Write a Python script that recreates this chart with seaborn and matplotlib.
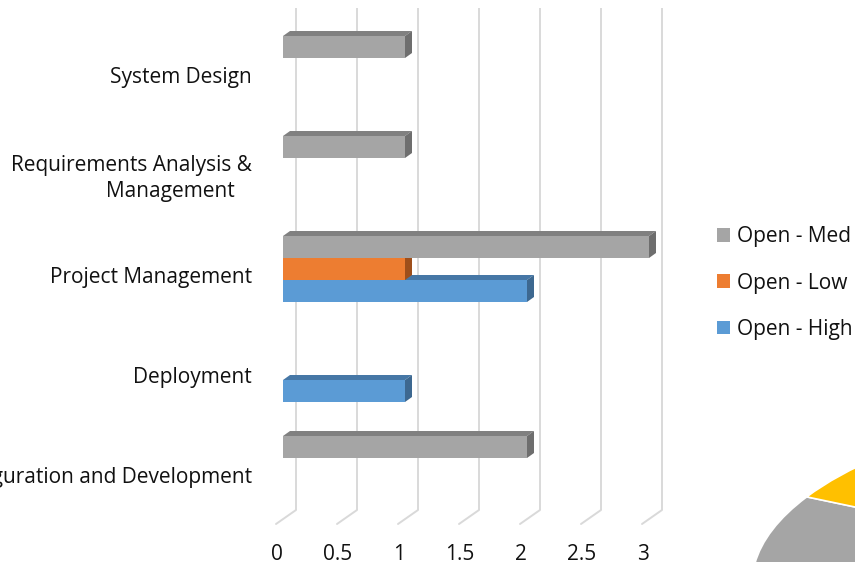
import matplotlib
matplotlib.use('Agg')
import matplotlib.pyplot as plt
import matplotlib.transforms as mtransforms
from matplotlib.patches import Polygon, Patch, ConnectionPatch
from matplotlib.colors import to_hex
import seaborn as sns
import pandas as pd

# 데이터
categories = ['System Design', 'Requirements Analysis & Management',
              'Project Management', 'Deployment', 'Configuration and Development']
series = ['Open - Med', 'Open - Low', 'Open - High']
open_med = [1, 1, 3, 0, 2]
open_low = [0, 0, 1, 0, 0]
open_high = [0, 0, 2, 1, 0]
x_ticks = [0, 0.5, 1, 1.5, 2, 2.5, 3]
x_tick_labels = ['0', '0.5', '1', '1.5', '2', '2.5', '3']

# 잘린 파이 차트 (오른쪽 아래)
pie_values = [6, 4, 14, 5]
pie_colors = ['#5B9BD5', '#ED7D31', '#A5A5A5', '#FFC000']

front = {'Open - Med': '#A5A5A5', 'Open - Low': '#ED7D31', 'Open - High': '#5B9BD5'}
shade = {'#a5a5a5': ('#808080', '#6E6E6E'),
         '#ed7d31': ('#B35D22', '#9E4F1B'),
         '#5b9bd5': ('#4677A6', '#3D6890')}

rows = []
for name, vals in zip(series, [open_med, open_low, open_high]):
    for c, v in zip(categories, vals):
        if v > 0:
            rows.append({'category': c, 'series': name, 'value': v})
df = pd.DataFrame(rows)

sns.set_style('white')
plt.rcParams['font.family'] = ['Open Sans', 'DejaVu Sans']
txt_color = '#111111'
fs = 15

fig = plt.figure(figsize=(8.55, 5.62), dpi=100)
ax = fig.add_axes([283/855, 1 - 519/562, 366/855, 500/562])

sns.barplot(data=df, x='value', y='category', hue='series', order=categories,
            hue_order=series, palette=front, width=0.66, gap=0, saturation=1,
            errorbar=None, legend=False, orient='h', ax=ax, zorder=3)

ax.set_xlim(0, 3)
ax.set_ylim(4.5, -0.5)
ax.set(xlabel='', ylabel='', xticks=[], yticks=[])
ax.set_facecolor('none')
sns.despine(ax=ax, left=True, bottom=True)

def px(dx, dy):
    return mtransforms.ScaledTranslation(dx / 100, dy / 100, fig.dpi_scale_trans)

back = ax.transData + px(13, 9)
front_edge = ax.transData + px(-7, -5)

# 뒤쪽 벽 눈금선 + 바닥 사선
for t in x_ticks:
    ax.plot([t, t], [-0.52, 4.5], transform=back, color='#D9D9D9', lw=1.4,
            clip_on=False, zorder=1, solid_capstyle='butt')
    con = ConnectionPatch(xyA=(t, 4.5), coordsA=back, xyB=(t, 4.5), coordsB=front_edge,
                          color='#D9D9D9', lw=1.4, zorder=1)
    fig.add_artist(con)

# 3D 막대 윗면/옆면
T = ax.transData
Ti = T.inverted()
bars = [p for p in ax.patches if p.get_width() > 0]
bars.sort(key=lambda p: -p.get_y())
for p in bars:
    x0, y0, w, h = p.get_x(), p.get_y(), p.get_width(), p.get_height()
    top_c, side_c = shade[to_hex(p.get_facecolor())]
    a = T.transform([[x0, y0], [x0 + w, y0], [x0 + w, y0 + h]])
    d = [7, 5]
    top = [a[0], a[1], a[1] + d, a[0] + d]
    side = [a[1], a[2], a[2] + d, a[1] + d]
    ax.add_patch(Polygon(Ti.transform(top), closed=True, fc=top_c, ec='none',
                         zorder=2, clip_on=False))
    ax.add_patch(Polygon(Ti.transform(side), closed=True, fc=side_c, ec='none',
                         zorder=2, clip_on=False))
    p.set_zorder(3)
    p.set_edgecolor('none')

# 카테고리 라벨
ylab_tr = ax.get_yaxis_transform() + px(-31, -9)
for i, c in enumerate(categories):
    if c == 'Requirements Analysis & Management':
        ax.text(0, i, 'Requirements Analysis &', transform=ax.get_yaxis_transform() + px(-31, 4),
                ha='right', va='center', fontsize=fs, color=txt_color)
        ax.text(0, i, 'Management', transform=ax.get_yaxis_transform() + px(-113, -22),
                ha='center', va='center', fontsize=fs, color=txt_color)
    else:
        ax.text(0, i, c, transform=ylab_tr, ha='right', va='center',
                fontsize=fs, color=txt_color, clip_on=False)

# x축 라벨
xlab_tr = ax.get_xaxis_transform() + px(-6, -35)
for t, lab in zip(x_ticks, x_tick_labels):
    ax.text(t, 0, lab, transform=xlab_tr, ha='center', va='center',
            fontsize=fs, color=txt_color)

# 범례
handles = [Patch(facecolor=front[s], edgecolor='none', label=s) for s in series]
fig.legend(handles=handles, loc='center left', bbox_to_anchor=(717/855, 1 - 283/562),
           frameon=False, fontsize=fs, handlelength=0.64, handleheight=0.64,
           handletextpad=0.3, labelspacing=1.22, borderpad=0, borderaxespad=0,
           labelcolor=txt_color)

# 파이
pax = fig.add_axes([752/855, 1 - 770/562, 940/855, 372/562])
pax.pie(pie_values, colors=pie_colors, startangle=90, counterclock=False,
        wedgeprops=dict(edgecolor='white', linewidth=1.2))
pax.set_xlim(-1, 1)
pax.set_ylim(-1, 1)
pax.set_aspect('auto')
pax.axis('off')

fig.savefig('out.png', dpi=100)
